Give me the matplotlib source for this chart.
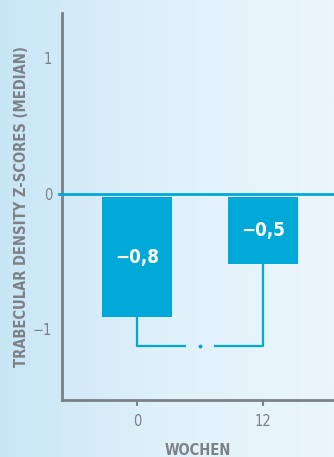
import matplotlib.pyplot as plt
import numpy as np
from matplotlib.colors import LinearSegmentedColormap

# data
weeks = ["0", "12"]
medians = [-0.91, -0.52]          # bar ends as drawn
bar_labels = ["\u22120,8", "\u22120,5"]
bar_top = -0.02                    # bars start just below zero line
bracket_y = -1.12
y_ticks = [-1, 0, 1]
y_tick_labels = ["\u22121", "0", "1"]

blue = "#00a9d8"
grey = "#7b8187"
cond = dict(family="DejaVu Sans", stretch="condensed")

fig = plt.figure(figsize=(3.34, 4.57), dpi=100)

# background gradient
bg = fig.add_axes([0, 0, 1, 1], zorder=-10)
cmap = LinearSegmentedColormap.from_list("bg", ["#c9e6f5", "#e0f1fa", "#ebf6fc"])
grad = np.linspace(0, 1, 256).reshape(1, -1)
bg.imshow(grad, cmap=cmap, aspect="auto", extent=[0, 1, 0, 1])
bg.axis("off")

ax = fig.add_axes([0.186, 0.125, 0.814, 0.8466])
ax.patch.set_alpha(0)

x = np.arange(len(weeks))
heights = [m - bar_top for m in medians]
ax.bar(x, heights, bottom=bar_top, width=0.556, color=blue, zorder=2)

# value labels in bars
label_pos = [-0.47, -0.27]
for xi, lab, yp in zip(x, bar_labels, label_pos):
    ax.text(xi, yp, lab, color="white", fontsize=13.5, fontweight="bold",
            ha="center", va="center", zorder=3, **cond)

# zero line
ax.axhline(0, xmin=-0.012, xmax=1, color=blue, lw=2, clip_on=False, zorder=3)

# bracket between bars
ax.plot([x[0], x[0], 0.38], [medians[0], bracket_y, bracket_y], color=blue, lw=1.6)
ax.plot([0.62, x[1], x[1]], [bracket_y, bracket_y, medians[1]], color=blue, lw=1.6)
ax.plot([0.5], [bracket_y], marker="o", ms=1.8, color=blue)

ax.set_xlim(-0.595, 1.563)
ax.set_ylim(-1.52, 1.336)
ax.set_xticks(x)
ax.set_xticklabels(weeks)
ax.set_yticks(y_ticks)
ax.set_yticklabels(y_tick_labels)

for s in ["top", "right"]:
    ax.spines[s].set_visible(False)
for s in ["left", "bottom"]:
    ax.spines[s].set_color(grey)
    ax.spines[s].set_linewidth(2)

ax.tick_params(axis="y", length=0, pad=7, labelsize=10.5, labelcolor=grey)
ax.tick_params(axis="x", length=4, width=1.5, color=grey, pad=6,
               labelsize=10.5, labelcolor=grey)
for t in ax.get_xticklabels() + ax.get_yticklabels():
    t.set_stretch("condensed")

ax.set_xlabel("WOCHEN", color=grey, fontsize=10.5, fontweight="bold", labelpad=10, **cond)
ax.set_ylabel("TRABECULAR DENSITY Z-SCORES (MEDIAN)", color=grey, fontsize=10.5,
              fontweight="bold", **cond)
ax.yaxis.set_label_coords(-0.121, 0.5)

fig.savefig("out.png", dpi=100)
